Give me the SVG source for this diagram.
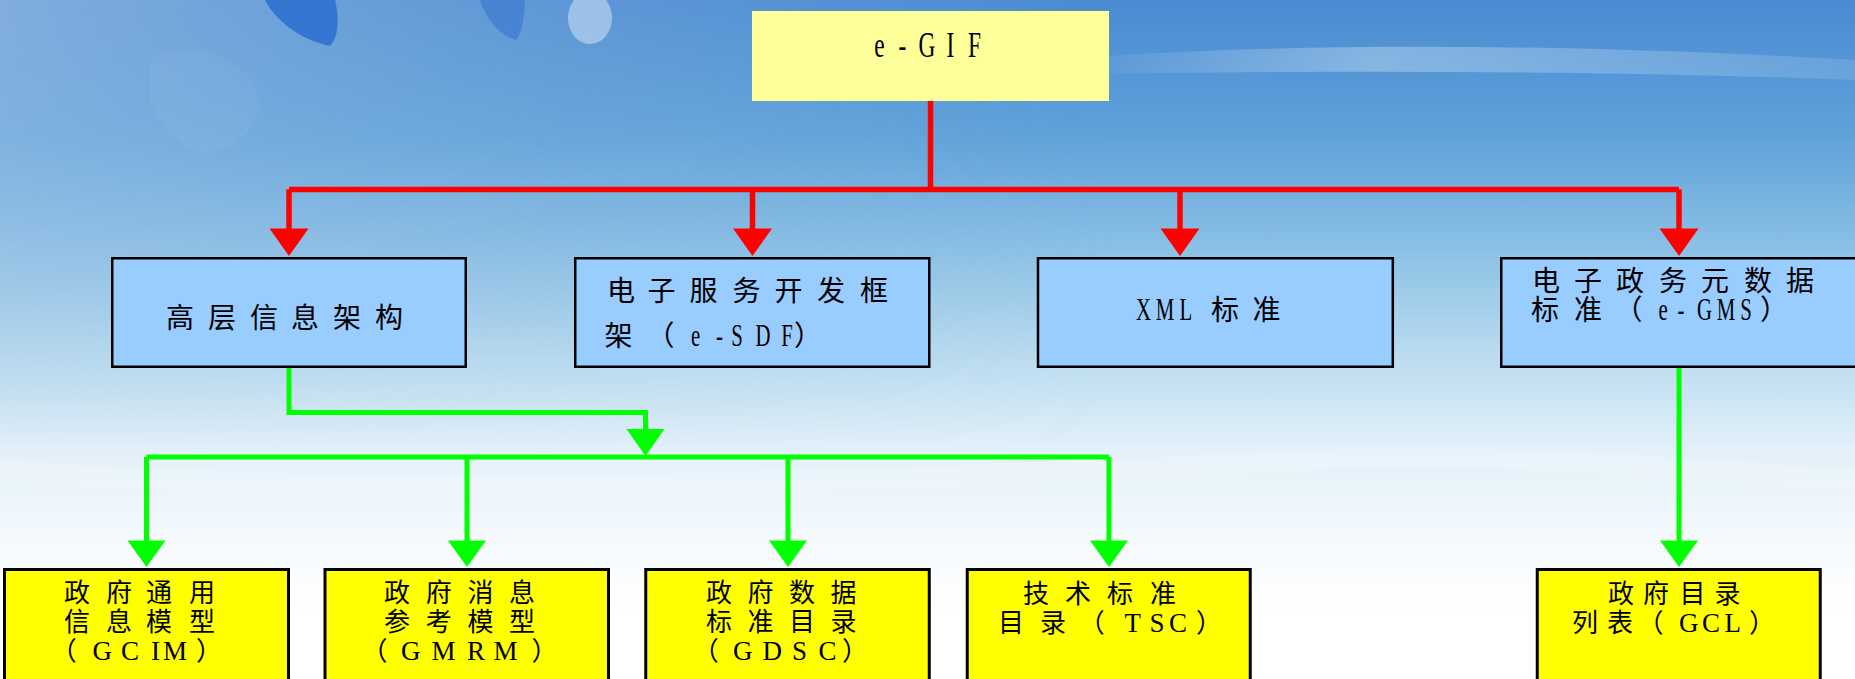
<svg xmlns="http://www.w3.org/2000/svg" width="1855" height="679" viewBox="0 0 1855 679">
<defs>
<linearGradient id="sky" x1="0" y1="0" x2="0" y2="1">
<stop offset="0" stop-color="#4a8bd2"/>
<stop offset="0.2" stop-color="#5fa2da"/>
<stop offset="0.38" stop-color="#8fc3e6"/>
<stop offset="0.52" stop-color="#b9dbef"/>
<stop offset="0.66" stop-color="#e2f0f9"/>
<stop offset="0.8" stop-color="#f6fafd"/>
<stop offset="0.9" stop-color="#ffffff"/>
</linearGradient>
<linearGradient id="leftShade" x1="0" y1="0" x2="1" y2="0">
<stop offset="0" stop-color="#a6c4e6" stop-opacity="0.6"/>
<stop offset="0.3" stop-color="#8db5df" stop-opacity="0.3"/>
<stop offset="0.6" stop-color="#8db5df" stop-opacity="0"/>
</linearGradient>
<linearGradient id="leftFade" x1="0" y1="0" x2="0" y2="1">
<stop offset="0" stop-color="#fff" stop-opacity="1"/>
<stop offset="0.55" stop-color="#fff" stop-opacity="0.6"/>
<stop offset="1" stop-color="#fff" stop-opacity="0"/>
</linearGradient>
<mask id="leftMask"><rect x="0" y="0" width="1855" height="460" fill="url(#leftFade)"/></mask>
<linearGradient id="streak" x1="0" y1="0" x2="1" y2="0">
<stop offset="0" stop-color="#ffffff" stop-opacity="0"/>
<stop offset="0.4" stop-color="#ffffff" stop-opacity="0.3"/>
<stop offset="1" stop-color="#ffffff" stop-opacity="0.12"/>
</linearGradient>
<style>
.top{fill:#99ccff;stroke:#000;stroke-width:2.5}
.bot{fill:#ffff00;stroke:#000;stroke-width:3}
.cjk{font-family:"Noto Sans CJK SC",sans-serif;fill:#000}
.t28{font-size:28px}
.t26{font-size:26px}
.lat{font-family:"Liberation Serif",serif;font-size:32px;fill:#000}
.ser{font-family:"Liberation Serif",serif;font-size:27px;fill:#000}
.red{fill:none;stroke:#ff0000;stroke-width:5.5}
.grn{fill:none;stroke:#00ff00;stroke-width:5}
.rh{fill:#ff0000}
.gh{fill:#00ff00}
</style>
</defs>
<g id="background">
<rect x="0" y="0" width="1855" height="679" fill="url(#sky)"/>
<rect x="0" y="0" width="1855" height="460" fill="url(#leftShade)" mask="url(#leftMask)"/>
<path d="M1050 60 C1300 40 1600 45 1855 60 L1855 80 C1600 70 1300 70 1050 75 Z" fill="url(#streak)"/>
<path d="M0 470 C400 500 900 480 1300 460 C1500 450 1700 470 1855 480" fill="none" stroke="#ffffff" stroke-opacity="0.2" stroke-width="20"/>
<path d="M265 0 L335 0 C340 20 338 38 330 46 C300 40 275 20 265 0 Z" fill="#2a6fcf" opacity="0.85"/>
<path d="M480 0 L525 0 C524 20 522 32 516 40 C498 35 486 18 480 0 Z" fill="#3576cf" opacity="0.6"/>
<ellipse cx="590" cy="18" rx="22" ry="26" fill="#cfe2f5" opacity="0.55"/>
<path d="M150 60 C180 40 230 50 250 80 C270 110 250 140 220 150 C190 160 160 130 150 100 Z" fill="#ffffff" opacity="0.04"/>
</g>
<g id="connectors">
<path class="red" d="M930.5 101 V189.5 M289 189.5 H1679 M289 189.5 V230 M752.5 189.5 V230 M1180 189.5 V230 M1679 189.5 V230"/>
<polygon class="rh" points="269.5,228.5 308.5,228.5 289,256"/>
<polygon class="rh" points="733,228.5 772,228.5 752.5,256"/>
<polygon class="rh" points="1160.5,228.5 1199.5,228.5 1180,256"/>
<polygon class="rh" points="1659.5,228.5 1698.5,228.5 1679,256"/>
<path class="grn" d="M289 368 V412.5 H645.5 V431 M146.5 457 H1109 M146.5 457 V542 M467 457 V542 M788 457 V542 M1109 457 V542 M1679 368 V542"/>
<polygon class="gh" points="626.5,429 664.5,429 645.5,456"/>
<polygon class="gh" points="127.5,540.5 165.5,540.5 146.5,567"/>
<polygon class="gh" points="448,540.5 486,540.5 467,567"/>
<polygon class="gh" points="769,540.5 807,540.5 788,567"/>
<polygon class="gh" points="1090,540.5 1128,540.5 1109,567"/>
<polygon class="gh" points="1660,540.5 1698,540.5 1679,567"/>
</g>
<g id="node-egif">
<rect x="752" y="11" width="357" height="90" fill="#ffff99"/>
<text class="lat" style="font-size:36px" transform="scale(0.65,1)" x="1345.1 1382.5 1413.1 1456.3 1489.2" y="57">e-GIF</text>
</g>
<g id="node-high-level">
<rect class="top" x="112.25" y="258.25" width="353.5" height="108.5"/>
<text class="cjk t28" x="166 208 250 291 333 375" y="328">高层信息架构</text>
</g>
<g id="node-esdf">
<rect class="top" x="575.25" y="258.25" width="354" height="108.5"/>
<text class="cjk t28" x="607 647.5 689.5 732.5 774.5 817 860" y="301">电子服务开发框</text>
<text class="cjk t28" x="604.5 646.6" y="346">架（</text>
<text class="lat" transform="scale(0.65,1)" x="1063.1 1101.5 1124.9 1162.3 1201.8" y="346">e-SDF</text>
<text class="cjk t28" x="794" y="346">）</text>
</g>
<g id="node-xml">
<rect class="top" x="1038" y="258.25" width="354.8" height="108.5"/>
<text class="lat" transform="scale(0.65,1)" x="1747.7 1778.1 1814.8 1846" y="320">XML </text>
<text class="cjk t28" x="1211 1252.5" y="320">标准</text>
</g>
<g id="node-egms">
<rect class="top" x="1501.25" y="258.25" width="355" height="108.5"/>
<text class="cjk t28" x="1532 1574 1616 1659 1701 1744 1786" y="291">电子政务元数据</text>
<text class="cjk t28" x="1531 1574 1614.6" y="320">标准（</text>
<text class="lat" transform="scale(0.65,1)" x="2551.4 2580.8 2610.8 2641.2 2677.2" y="320">e-GMS</text>
<text class="cjk t28" x="1760" y="320">）</text>
</g>
<g id="node-gcim">
<rect class="bot" x="4.5" y="569.5" width="284" height="130"/>
<text class="cjk t26" x="64 106 146 189" y="602">政府通用</text>
<text class="cjk t26" x="64 106 146 189" y="631">信息模型</text>
<text y="660"><tspan class="cjk t26" x="50.7">（</tspan><tspan class="ser" x="92.5 121 151 163">GCIM</tspan><tspan class="cjk t26" x="196">）</tspan></text>
</g>
<g id="node-gmrm">
<rect class="bot" x="325" y="569.5" width="283.5" height="130"/>
<text class="cjk t26" x="384 425.7 467.4 509" y="602">政府消息</text>
<text class="cjk t26" x="384 425.7 467.4 509" y="631">参考模型</text>
<text y="660"><tspan class="cjk t26" x="361.4">（</tspan><tspan class="ser" x="401 431.5 467 493.5">GMRM</tspan><tspan class="cjk t26" x="531.5">）</tspan></text>
</g>
<g id="node-gdsc">
<rect class="bot" x="645.75" y="569.5" width="283.5" height="130"/>
<text class="cjk t26" x="706 747.5 789 830.4" y="602">政府数据</text>
<text class="cjk t26" x="706 747.5 789 830.4" y="631">标准目录</text>
<text y="660"><tspan class="cjk t26" x="692.7">（</tspan><tspan class="ser" x="733 762.5 792 818.5">GDSC</tspan><tspan class="cjk t26" x="842">）</tspan></text>
</g>
<g id="node-tsc">
<rect class="bot" x="967.25" y="569.5" width="283" height="130"/>
<text class="cjk t26" x="1023 1065 1107 1150" y="603">技术标准</text>
<text y="631.5"><tspan class="cjk t26" x="998 1040 1078.7">目录（</tspan><tspan class="ser" x="1124.5 1149.5 1169">TSC</tspan><tspan class="cjk t26" x="1196">）</tspan></text>
</g>
<g id="node-gcl">
<rect class="bot" x="1537.25" y="569.5" width="283" height="130"/>
<text class="cjk t26" x="1608 1643 1679.5 1714.5" y="603">政府目录</text>
<text y="631.5"><tspan class="cjk t26" x="1572 1607 1637.4">列表（</tspan><tspan class="ser" x="1679 1702 1724.5">GCL</tspan><tspan class="cjk t26" x="1749">）</tspan></text>
</g>
</svg>
